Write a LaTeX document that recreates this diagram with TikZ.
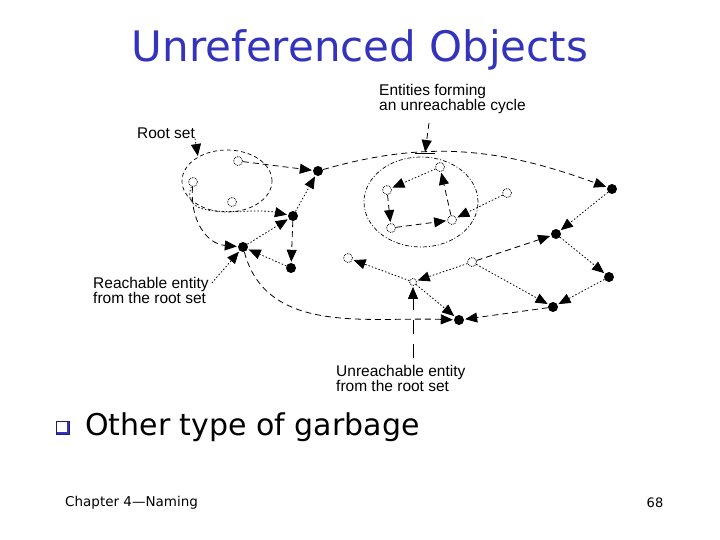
\documentclass[tikz,border=0pt]{standalone}
\usepackage{fontspec}
\setmainfont{Liberation Sans}
\newfontfamily\slidefont{DejaVu Sans}
\usetikzlibrary{arrows.meta}
\definecolor{titleblue}{RGB}{51,51,187}

\tikzset{
  full/.style={circle,fill=black,inner sep=0pt,minimum size=10pt},
  hollow/.style={circle,draw,densely dotted,line width=0.8pt,inner sep=0pt,minimum size=9pt},
  ref/.style={line width=0.8pt,-{Triangle[length=12pt,width=10pt]},shorten >=1pt},
  dashref/.style={ref,dash pattern=on 6pt off 4pt},
  dotref/.style={ref,dash pattern=on 1.5pt off 2pt},
  lbl/.style={font=\fontsize{15.5}{15.5}\selectfont,align=left,inner sep=0pt},
}

\begin{document}
\begin{tikzpicture}[x=1pt,y=-1pt]
  \fill[white] (0,0) rectangle (720,540);
  \useasboundingbox (0,0) rectangle (720,540);

  % slide text
  \node[font=\slidefont\fontsize{42}{44}\selectfont,text=titleblue] (title) at (360,50) {Unreferenced Objects};
  \node[font=\slidefont\fontsize{30}{32}\selectfont,anchor=west,inner sep=0pt] (garbage) at (85,427) {Other type of garbage};
  \node[draw=titleblue!60!black,fill=titleblue,minimum size=13pt,inner sep=0pt] (bullet) at (63,428) {};
  \fill[white] ([shift={(1pt,-1pt)}]bullet.north west) rectangle ([shift={(-2.5pt,3pt)}]bullet.south east);
  \node[font=\slidefont\fontsize{13.5}{15}\selectfont,anchor=west,inner sep=0pt] (chapter) at (65,503) {Chapter 4—Naming};
  \node[font=\slidefont\fontsize{13}{15}\selectfont,inner sep=0pt] (page) at (655,503) {68};

  % root set
  \draw[dash pattern=on 4pt off 3pt,line width=0.7pt] (227,181) ellipse [x radius=45pt,y radius=31pt];
  \node[hollow] (root1) at (238,161) {};
  \node[hollow] (root2) at (193,182) {};
  \node[hollow] (root3) at (232,202) {};

  % reachable entities
  \node[full] (reachA) at (318,171) {};
  \node[full] (reachB) at (293,216) {};
  \node[full] (reachC) at (243,247) {};
  \node[full] (reachD) at (291,268) {};
  \node[full] (farE) at (612,189) {};
  \node[full] (farF) at (556,234) {};
  \node[full] (farG) at (609,277) {};
  \node[full] (farH) at (553,307) {};
  \node[full] (farI) at (459,320) {};

  % unreachable cycle
  \draw[dash pattern=on 4pt off 2pt on 1pt off 2pt,line width=0.7pt] (421,202) ellipse [x radius=57pt,y radius=45pt];
  \node[hollow] (cyc1) at (440,167) {};
  \node[hollow] (cyc2) at (387,190) {};
  \node[hollow] (cyc3) at (391,228) {};
  \node[hollow] (cyc4) at (452,220) {};
  \node[hollow] (cyc5) at (507,193) {};

  % other unreachable entities
  \node[hollow] (dead1) at (348,258) {};
  \node[hollow] (dead2) at (472,262) {};
  \node[hollow,minimum size=7pt] (dead) at (413,282) {};

  % references
  \foreach \a/\b in {root1/reachA, reachB/reachD, farH/farI, cyc2/cyc3, cyc3/cyc4, cyc4/cyc1, dead2/farF}
    \draw[dashref] (\a) -- (\b);
  \foreach \a/\b in {reachB/reachA, reachC/reachB, reachD/reachC, farE/farF, farF/farG, farG/farH,
                     dead2/farH, dead2/dead, dead/dead1, dead/farI, cyc1/cyc2, cyc5/cyc4}
    \draw[dotref] (\a) -- (\b);
  \draw[dotref] (root2) to[out=-110,in=168] (reachB);
  \draw[dashref] (root2) to[out=-95,in=175,looseness=1.1] (reachC);
  \draw[dashref] (reachA) to[out=16,in=160] (farE);
  \draw[dashref] (reachC) to[out=-75,in=178] (farI);

  % labels
  \node[lbl,anchor=center] (rootlbl) at (166,133) {Root set};
  \coordinate (rootpt) at (198,157);
  \draw[dotref] (rootlbl.south east) -- (rootpt);

  \node[lbl,anchor=north west] (cyclbl) at (379,84) {Entities forming\\an unreachable cycle};
  \coordinate (cyctail) at (429,123);
  \coordinate (cycpt) at (425,153);
  \draw[dashref] (cyctail) -- (cycpt);
  \draw[line width=0.8pt] (415,153) -- (435,153);

  \node[lbl,anchor=north west] (reachlbl) at (93,277) {Reachable entity\\from the root set};
  \draw[dotref] ([shift={(3pt,-6pt)}]reachlbl.north east) -- (reachC);

  \node[lbl,anchor=north west] (deadlbl) at (336,365) {Unreachable entity\\from the root set};
  \coordinate (deadtail) at (413,358);
  \draw[ref,dash pattern=on 14pt off 10pt] (deadtail) -- (dead);
\end{tikzpicture}
\end{document}
